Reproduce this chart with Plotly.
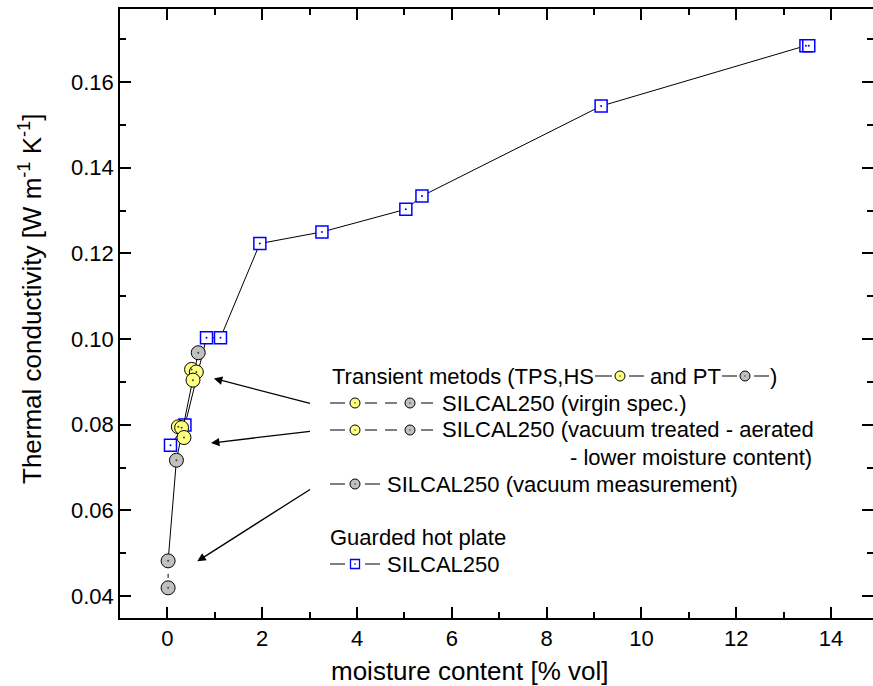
import plotly.graph_objects as go

# ---------------- data ----------------
ghp_x = [0.065, 0.37, 0.825, 1.12, 1.95, 3.26, 5.03, 5.37, 9.15, 13.47, 13.53]
ghp_y = [0.0752, 0.0799, 0.1003, 0.1003, 0.1223, 0.1250, 0.1303, 0.1334, 0.1544, 0.1685, 0.1685]

pt_vacuum_x = [0.015, 0.015]
pt_vacuum_y = [0.0419, 0.0482]

pt_x = [0.015, 0.19, 0.65]
pt_y = [0.0482, 0.0717, 0.0968]

tps_virgin_x = [0.51, 0.61, 0.54]
tps_virgin_y = [0.0929, 0.0923, 0.0904]

tps_treated_x = [0.23, 0.30, 0.35]
tps_treated_y = [0.0795, 0.0793, 0.0770]

x_ticks = [0, 2, 4, 6, 8, 10, 12, 14]
y_ticks = [0.04, 0.06, 0.08, 0.10, 0.12, 0.14, 0.16]

# arrows: (head_x, head_y, tail_x, tail_y) in data units
arrows = [
    (0.98, 0.0908, 3.04, 0.0849),
    (0.92, 0.0757, 3.04, 0.0785),
    (0.63, 0.0481, 3.04, 0.0651),
]

# ---------------- layout helpers ----------------
W, H = 873, 686
PL, PR, PT, PB = 120, 873, 9, 618
FONT = "Liberation Sans, Arial, sans-serif"
BLUE = "#0000ff"
YEL = "#ffff80"
GRAY = "#c0c0c0"


def px(x):
    return (x - PL) / (PR - PL)


def py(y):
    return (PB - y) / (PB - PT)


fig = go.Figure()

# Guarded hot plate
fig.add_trace(go.Scatter(x=ghp_x, y=ghp_y, mode="lines+markers",
                         line=dict(color="black", width=1),
                         marker=dict(symbol="square", size=12, color="white",
                                     line=dict(color=BLUE, width=1.5)),
                         showlegend=False))
fig.add_trace(go.Scatter(x=ghp_x, y=ghp_y, mode="markers",
                         marker=dict(size=2, color=BLUE), showlegend=False))

# PT (gray) lines
fig.add_trace(go.Scatter(x=pt_vacuum_x, y=pt_vacuum_y, mode="lines",
                         line=dict(color="black", width=1, dash="4px,6px"),
                         showlegend=False))
fig.add_trace(go.Scatter(x=pt_x, y=pt_y, mode="lines",
                         line=dict(color="black", width=1), showlegend=False))
gray_x = pt_vacuum_x + pt_x[1:]
gray_y = pt_vacuum_y + pt_y[1:]
fig.add_trace(go.Scatter(x=gray_x, y=gray_y, mode="markers",
                         marker=dict(symbol="circle", size=14, color=GRAY,
                                     line=dict(color="black", width=1)),
                         showlegend=False))
fig.add_trace(go.Scatter(x=gray_x, y=gray_y, mode="markers",
                         marker=dict(size=2, color="#404040"), showlegend=False))

# TPS / HS (yellow)
for xs, ys in [(tps_treated_x, tps_treated_y), (tps_virgin_x, tps_virgin_y)]:
    fig.add_trace(go.Scatter(x=xs, y=ys, mode="markers",
                             marker=dict(symbol="circle", size=14, color=YEL,
                                         line=dict(color="black", width=1)),
                             showlegend=False))
    fig.add_trace(go.Scatter(x=xs, y=ys, mode="markers",
                             marker=dict(size=2, color="#404040"), showlegend=False))

# invisible trace on right axis (for inside ticks without a line)
fig.add_trace(go.Scatter(x=[None], y=[None], yaxis="y2", showlegend=False))

annotations = []
for hx, hy, tx, ty in arrows:
    annotations.append(dict(x=hx, y=hy, ax=tx, ay=ty, xref="x", yref="y",
                            axref="x", ayref="y", text="", showarrow=True,
                            arrowhead=2, arrowsize=1.3, arrowwidth=1.3,
                            arrowcolor="black", standoff=0, startstandoff=0))


def text(x, y, s, size=22, **kw):
    d = dict(x=px(x), y=py(y), xref="paper", yref="paper", text=s,
             showarrow=False, xanchor="left", yanchor="middle",
             font=dict(family=FONT, size=size, color="black"))
    d.update(kw)
    annotations.append(d)


shapes = []


def hline(x0, x1, y):
    shapes.append(dict(type="line", xref="paper", yref="paper",
                       x0=px(x0), x1=px(x1), y0=py(y), y1=py(y),
                       line=dict(color="black", width=1)))


def circ(cx, cy, fill, r=5):
    shapes.append(dict(type="circle", xref="paper", yref="paper",
                       x0=px(cx - r), x1=px(cx + r), y0=py(cy - r), y1=py(cy + r),
                       fillcolor=fill, line=dict(color="black", width=1)))
    shapes.append(dict(type="circle", xref="paper", yref="paper",
                       x0=px(cx - 0.8), x1=px(cx + 0.8), y0=py(cy - 0.8), y1=py(cy + 0.8),
                       fillcolor="#404040", line=dict(width=0)))


def sq(cx, cy, r=4.5):
    shapes.append(dict(type="rect", xref="paper", yref="paper",
                       x0=px(cx - r), x1=px(cx + r), y0=py(cy - r), y1=py(cy + r),
                       fillcolor="white", line=dict(color=BLUE, width=1.3)))
    shapes.append(dict(type="rect", xref="paper", yref="paper",
                       x0=px(cx - 0.7), x1=px(cx + 0.7), y0=py(cy - 0.7), y1=py(cy + 0.7),
                       fillcolor=BLUE, line=dict(width=0)))


# legend row 1
r1 = 376
text(330, r1, "Transient metods (TPS,HS")
hline(595, 612, r1); circ(620, r1, YEL); hline(629, 644, r1)
text(648, r1, "and PT")
hline(722, 737, r1); circ(745, r1, GRAY); hline(754, 769, r1)
text(768, r1, ")")

# rows 2 and 3
for ry, s in [(403, "SILCAL250 (virgin spec.)"),
              (430, "SILCAL250 (vacuum treated - aerated")]:
    hline(330, 345, ry); circ(355, ry, YEL)
    hline(365, 377, ry); hline(385, 397, ry)
    circ(410, ry, GRAY); hline(421, 433, ry)
    text(440, ry, s)
text(568, 457, "- lower moisture content)")

# row 5
r5 = 484
hline(330, 345, r5); circ(355, r5, GRAY); hline(365, 380, r5)
text(385, r5, "SILCAL250 (vacuum measurement)")

# rows 6, 7
text(328, 537, "Guarded hot plate")
r7 = 564
hline(330, 345, r7); sq(355, r7); hline(365, 380, r7)
text(385, r7, "SILCAL250")

# axis titles
annotations.append(dict(x=px(469), y=py(671), xref="paper", yref="paper",
                        text="moisture content [% vol]", showarrow=False,
                        xanchor="center", yanchor="middle",
                        font=dict(family=FONT, size=26, color="black")))
annotations.append(dict(x=px(30), y=py(299), xref="paper", yref="paper",
                        text="Thermal conductivity [W m<sup>-1</sup> K<sup>-1</sup>]",
                        showarrow=False, textangle=-90,
                        xanchor="center", yanchor="middle",
                        font=dict(family=FONT, size=26, color="black")))

axis_common = dict(showgrid=False, zeroline=False, ticks="inside", ticklen=11,
                   tickwidth=1.5, tickcolor="black",
                   tickfont=dict(family=FONT, size=22, color="black"))

fig.update_layout(
    width=W, height=H,
    margin=dict(l=PL, r=W - PR, t=PT, b=H - PB),
    paper_bgcolor="white", plot_bgcolor="white",
    xaxis=dict(range=[-1.0, 14.885], tickvals=x_ticks,
               ticktext=[str(v) for v in x_ticks],
               showline=True, linecolor="black", linewidth=1.5, mirror="ticks",
               minor=dict(ticks="inside", ticklen=6, tickwidth=1.5,
                          tickcolor="black", dtick=1, tick0=0),
               **axis_common),
    yaxis=dict(range=[0.03486, 0.17706], tickvals=y_ticks,
               ticktext=["%.2f" % v for v in y_ticks],
               showline=True, linecolor="black", linewidth=1.5,
               minor=dict(ticks="inside", ticklen=6, tickwidth=1.5,
                          tickcolor="black", dtick=0.01, tick0=0.03),
               **axis_common),
    yaxis2=dict(range=[0.03486, 0.17706], overlaying="y", side="right",
                showline=False, showticklabels=False,
                tickvals=y_ticks + [0.18],
                minor=dict(ticks="inside", ticklen=6, tickwidth=1.5,
                           tickcolor="black", dtick=0.01, tick0=0.03),
                showgrid=False, zeroline=False, ticks="inside", ticklen=11,
                tickwidth=1.5, tickcolor="black"),
    annotations=annotations,
    shapes=shapes,
)

fig.write_html(
    "out.html",
    config={"displayModeBar": False},
    post_script="document.body.style.margin='0';document.body.style.overflow='hidden';",
)
